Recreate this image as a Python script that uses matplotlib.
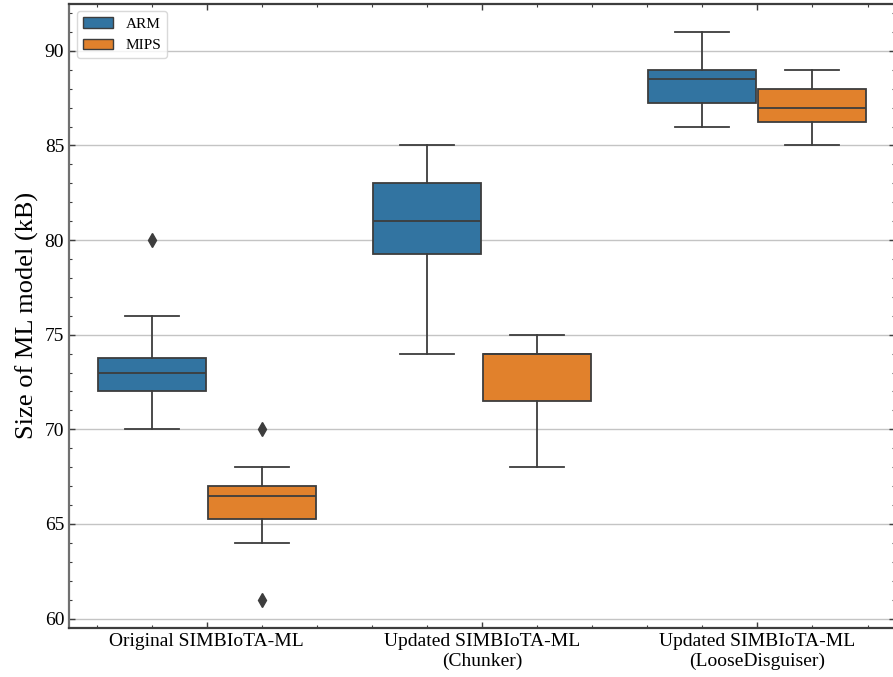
import matplotlib
matplotlib.use("Agg")
import matplotlib.pyplot as plt
from matplotlib.patches import Patch
from matplotlib.ticker import MultipleLocator

# model sizes in kB
categories = ["Original SIMBIoTA-ML", "Updated SIMBIoTA-ML\n(Chunker)",
              "Updated SIMBIoTA-ML\n(LooseDisguiser)"]
hues = ["ARM", "MIPS"]
colors = ["#3274a1", "#e1812c"]

arm_original = [70, 71, 72, 72.5, 73, 73.5, 73.75, 76, 80]
mips_original = [61, 64, 65.25, 66, 66.5, 66.75, 67, 68, 70]
arm_chunker = [74, 77, 79.25, 80, 81, 82, 83, 84, 85]
mips_chunker = [68, 70, 71.5, 73, 74, 74, 74, 74.5, 75]
arm_loose = [86, 86.5, 87.25, 88, 88.5, 88.75, 89, 90, 91]
mips_loose = [85, 85.5, 86.25, 86.5, 87, 87.5, 88, 88.5, 89]

arm = [arm_original, arm_chunker, arm_loose]
mips = [mips_original, mips_chunker, mips_loose]

plt.rcParams['font.family'] = ['Liberation Serif', 'DejaVu Serif']
plt.rcParams['xtick.direction'] = 'in'
plt.rcParams['ytick.direction'] = 'in'

fig = plt.figure(figsize=(8.93, 6.77), dpi=100)
# right spine falls just outside the picture, as in the reference
ax = fig.add_axes([0.0773, 0.0724, 0.9250, 0.9224])

line_col = "#3d3d3d"
offset = 0.2
width = 0.392
for k, (series, col) in enumerate(zip([arm, mips], colors)):
    pos = [i - offset + 2 * offset * k for i in range(len(categories))]
    ax.boxplot(series, positions=pos, widths=width, patch_artist=True,
               manage_ticks=False,
               boxprops=dict(facecolor=col, edgecolor=line_col, linewidth=1.3),
               medianprops=dict(color=line_col, linewidth=1.3),
               whiskerprops=dict(color=line_col, linewidth=1.3),
               capprops=dict(color=line_col, linewidth=1.3),
               flierprops=dict(marker='d', markerfacecolor=line_col,
                               markeredgecolor=line_col, markersize=7))

ax.set_xlim(-0.5, len(categories) - 0.5)
ax.margins(y=0.05)
ax.set_xticks(range(len(categories)))
ax.set_xticklabels(categories, fontsize=14)
ax.xaxis.set_minor_locator(MultipleLocator(0.2))
ax.yaxis.set_major_locator(MultipleLocator(5))
ax.yaxis.set_minor_locator(MultipleLocator(1))
ax.tick_params(axis='y', labelsize=14)
ax.tick_params(which='both', top=True, right=True, color=line_col)
ax.tick_params(which='major', length=4.5, width=1)
ax.tick_params(which='minor', length=2.3, width=0.8)

ax.grid(axis='y', color='#c4c4c4', linewidth=1)
ax.set_axisbelow(True)
for s in ax.spines.values():
    s.set_color(line_col)
    s.set_linewidth(1.6)
ax.spines['left'].set_color('#707070')

ax.set_ylabel("Size of ML model (kB)", fontsize=19)

handles = [Patch(facecolor=c, edgecolor=line_col, linewidth=1, label=h)
           for h, c in zip(hues, colors)]
ax.legend(handles=handles, loc='upper left', fontsize=11, fancybox=True,
          edgecolor='#d0d0d0')

fig.savefig("out.png", dpi=100)
